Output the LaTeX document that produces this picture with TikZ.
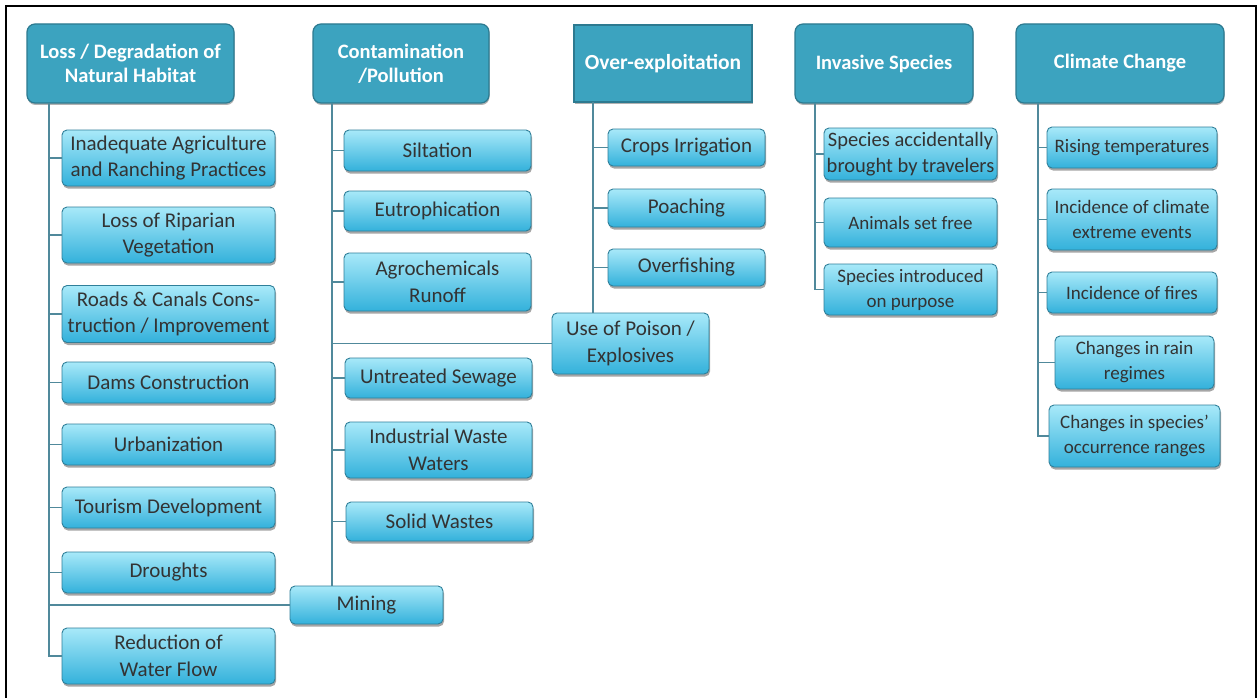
\documentclass[tikz,border=0pt]{standalone}
\usepackage{fontspec}
\setmainfont{Carlito}
\usetikzlibrary{shadows}
\definecolor{hdrfill}{HTML}{3CA3BF}
\definecolor{hdrline}{HTML}{2D7A90}
\definecolor{kidtop}{HTML}{A8E9F9}
\definecolor{kidbot}{HTML}{33B1DB}
\definecolor{kidline}{HTML}{2F7F99}
\definecolor{kidtext}{HTML}{333333}
\definecolor{wire}{HTML}{50899B}
\tikzset{
  hdr/.style={draw=hdrline, line width=1.2pt, fill=hdrfill, rounded corners=8pt,
    inner sep=0pt, align=center, text=white,
    font=\bfseries\fontsize{20.5}{24}\selectfont,
    drop shadow={shadow xshift=0.5pt, shadow yshift=-2pt, opacity=0.3, fill=black}},
  hdrsq/.style={hdr, rounded corners=0pt},
  kid/.style={draw=kidline, line width=0.9pt, top color=kidtop, bottom color=kidbot,
    rounded corners=5pt, inner sep=0pt, align=center, text=kidtext,
    font=\fontsize{21}{26.5}\selectfont,
    drop shadow={shadow xshift=1pt, shadow yshift=-2.5pt, opacity=0.35, fill=black}},
  kidsm/.style={kid, font=\fontsize{19}{25}\selectfont},
  wireline/.style={draw=wire, line width=1.4pt}
}
\begin{document}
\begin{tikzpicture}[x=1pt,y=-1pt]
\useasboundingbox (0,0) rectangle (1257,698);
\fill[white] (0,0) rectangle (1257,698);
% frame
\draw[line width=2pt] (6,700) -- (6,6) -- (1255.5,6) -- (1255.5,700);

% trunk origins
\coordinate (t1) at (49,103);
\coordinate (t2) at (332,103);
\coordinate (t3) at (593,102);
\coordinate (t4) at (815,103);
\coordinate (t5) at (1038,103);

% headers
\node[hdr, minimum width=207, minimum height=79] (h1) at (130.5,63.5) {Loss / Degradation of\\Natural Habitat};
\node[hdr, minimum width=176, minimum height=79] (h2) at (401,63.5) {Contamination\\/Pollution};
\node[hdrsq, minimum width=178, minimum height=77, font=\bfseries\fontsize{21.5}{24}\selectfont] (h3) at (663,63.5) {Over-exploitation};
\node[hdr, minimum width=178, minimum height=79] (h4) at (884,63.5) {Invasive Species};
\node[hdr, minimum width=208, minimum height=79] (h5) at (1120,63.5) {Climate Change};

% column 1
\node[kid, minimum width=213, minimum height=56] (a1) at (168.5,158) {Inadequate Agriculture\\and Ranching Practices};
\node[kid, minimum width=213, minimum height=56] (a2) at (168.5,235) {Loss of Riparian\\Vegetation};
\node[kid, minimum width=213, minimum height=57] (a3) at (168.5,314) {Roads \& Canals Cons-\\truction / Improvement};
\node[kid, minimum width=213, minimum height=41] (a4) at (168.5,382.5) {Dams Construction};
\node[kid, minimum width=213, minimum height=41] (a5) at (168.5,444.5) {Urbanization};
\node[kid, minimum width=213, minimum height=41] (a6) at (168.5,507.5) {Tourism Development};
\node[kid, minimum width=213, minimum height=41] (a7) at (168.5,572.5) {Droughts};
\node[kid, minimum width=153, minimum height=38] (mining) at (366.5,605) {Mining};
\node[kid, minimum width=213, minimum height=56] (a8) at (168.5,656) {Reduction of\\Water Flow};

% column 2
\node[kid, minimum width=187, minimum height=41] (b1) at (437.5,150.5) {Siltation};
\node[kid, minimum width=187, minimum height=40] (b2) at (437.5,211) {Eutrophication};
\node[kid, minimum width=187, minimum height=58] (b3) at (437.5,282) {Agrochemicals\\Runoff};
\node[kid, minimum width=157, minimum height=61] (poison) at (630.5,343.5) {Use of Poison /\\Explosives};
\node[kid, minimum width=187, minimum height=40] (b4) at (438.5,378) {Untreated Sewage};
\node[kid, minimum width=187, minimum height=56] (b5) at (438.5,450) {Industrial Waste\\Waters};
\node[kid, minimum width=187, minimum height=39] (b6) at (439.5,521.5) {Solid Wastes};

% column 3
\node[kid, minimum width=157, minimum height=37] (c1) at (686.5,147.5) {Crops Irrigation};
\node[kid, minimum width=157, minimum height=38] (c2) at (686.5,208) {Poaching};
\node[kid, minimum width=157, minimum height=37] (c3) at (686.5,267.5) {Overfishing};

% column 4
\node[kid, minimum width=173, minimum height=52, font=\fontsize{20.5}{25.5}\selectfont] (d1) at (910.5,154) {Species accidentally\\brought by travelers};
\node[kidsm, minimum width=173, minimum height=49] (d2) at (910.5,222.5) {Animals set free};
\node[kidsm, minimum width=173, minimum height=51] (d3) at (910.5,289.5) {Species introduced\\on purpose};

% column 5
\node[kidsm, minimum width=170, minimum height=41] (e1) at (1132,147.5) {Rising temperatures};
\node[kidsm, minimum width=170, minimum height=61] (e2) at (1132,219.5) {Incidence of climate\\extreme events};
\node[kidsm, minimum width=170, minimum height=41] (e3) at (1132,292.5) {Incidence of fires};
\node[kidsm, minimum width=159, minimum height=53] (e4) at (1134.5,362.5) {Changes in rain\\regimes};
\node[kidsm, minimum width=171, minimum height=62] (e5) at (1134.5,436) {Changes in species’\\occurrence ranges};

% connectors
\foreach \n in {a1,a2,a3,a4,a5,a6,a7,mining,a8} \draw[wireline] (t1) |- (\n.west);
\foreach \n in {b1,b2,b3,poison,b4,b5,b6} \draw[wireline] (t2) |- (\n.west);
\draw[wireline] (t2) -- (t2 |- mining.north);
\foreach \n in {c1,c2,c3} \draw[wireline] (t3) |- (\n.west);
\draw[wireline] (t3) -- (t3 |- poison.north);
\foreach \n in {d1,d2,d3} \draw[wireline] (t4) |- (\n.west);
\foreach \n in {e1,e2,e3,e4,e5} \draw[wireline] (t5) |- (\n.west);
\end{tikzpicture}
\end{document}
